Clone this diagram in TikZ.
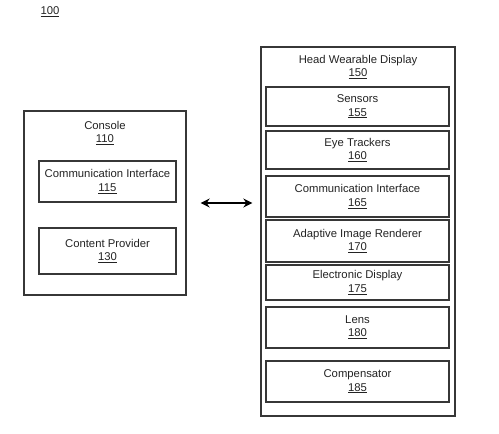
\documentclass[tikz,border=0pt]{standalone}
\usepackage{fontspec}
\setmainfont{Liberation Sans}
\usetikzlibrary{arrows.meta,positioning}
\definecolor{lnGray}{RGB}{55,55,55}
\definecolor{txGray}{RGB}{35,35,35}

\begin{document}
\begin{tikzpicture}[
  x=1pt, y=-1pt,
  font=\fontsize{11.3}{13.3}\selectfont, text=txGray,
  outer/.style={draw=lnGray, line width=1.3pt, inner sep=0pt},
  unit/.style={draw=lnGray, line width=1.1pt, inner sep=0pt, align=center},
  title/.style={align=center, inner sep=0pt},
  dblarr/.style={{Stealth[length=9pt,width=9pt]}-{Stealth[length=9pt,width=9pt]}, line width=2pt, black},
]
\useasboundingbox (0,0) rectangle (499,434);
% figure number
\node[title] (fig) at (50,12) {\underline{100}};
% console side
\node[outer, minimum width=162pt, minimum height=184pt] (console) at (105,203) {};
\node[title] (conT) at (105,133) {Console\\\underline{110}};
\node[unit, minimum width=137pt, minimum height=41pt] (conCI) at (107.5,181.5) {Communication Interface\\\underline{115}};
\node[unit, minimum width=137pt, minimum height=46pt] (conCP) at (107.5,251) {Content Provider\\\underline{130}};
% head wearable display side
\node[outer, minimum width=194pt, minimum height=369pt] (hwd) at (358,231.5) {};
\node[title] (hwdT) at (358,67) {Head Wearable Display\\\underline{150}};
\node[unit, minimum width=183pt, minimum height=39pt] (sensors) at (357.5,106.5) {Sensors\\\underline{155}};
\node[unit, minimum width=183pt, minimum height=38pt] (eyeTrk) at (357.5,150) {Eye Trackers\\\underline{160}};
\node[unit, minimum width=183pt, minimum height=41pt] (hwdCI) at (357.5,196.5) {Communication Interface\\\underline{165}};
\node[unit, minimum width=183pt, minimum height=42pt] (renderer) at (357.5,241) {Adaptive Image Renderer\\\underline{170}};
\node[unit, minimum width=183pt, minimum height=35pt] (eDisplay) at (357.5,282.5) {Electronic Display\\\underline{175}};
\node[unit, minimum width=183pt, minimum height=41pt] (lens) at (357.5,327.5) {Lens\\\underline{180}};
\node[unit, minimum width=183pt, minimum height=41pt] (compensator) at (357.5,381.5) {Compensator\\\underline{185}};
% link
\draw[dblarr, shorten <=14pt, shorten >=8pt] (console.east) -- (console.east -| hwd.west);
\end{tikzpicture}
\end{document}
